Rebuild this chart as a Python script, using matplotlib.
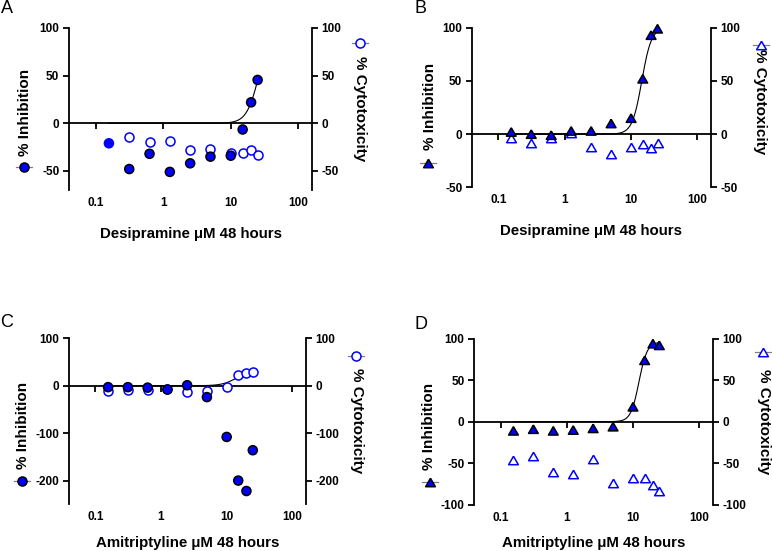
import numpy as np
import matplotlib
matplotlib.use('Agg')
import matplotlib.pyplot as plt
from matplotlib.lines import Line2D
from matplotlib.ticker import NullLocator, FixedLocator

plt.rcParams['font.family'] = ['Liberation Sans', 'DejaVu Sans']
plt.rcParams['font.weight'] = 'bold'
plt.rcParams['axes.unicode_minus'] = False

# ---------------- data ----------------
conc = [0.15625, 0.3125, 0.625, 1.25, 2.5, 5, 10, 15, 20, 25]

desi_a_inhib = [-21, -48, -32, -51, -42, -35, -34, -6.5, 22, 45.5]
desi_a_cyto = [np.nan, -14, -20, -18.5, -28, -26.5, -31.5, -31, -28, -33]

desi_b_inhib = [2, 0, -1, 3, 3, 10, 15, 52, 93, 99]
desi_b_cyto = [-4, -8, -3.5, 1, -12, -19, -12, -9, -13, -8]

ami_c_inhib = [-3, -3, -4, -8, 1, -24, -108, -200, -222, -136]
ami_c_cyto = [-11, -10, -10, -6, -14, -12, -2, 22, 27, 30]

ami_d_inhib = [-11, -9, -11, -10, -8, -6, 18, 74, 94, 92]
ami_d_cyto = [-46, -41, -61, -63, -45, -74, -68, -68, -76, -84]

# fitted sigmoid parameters (top, EC50, hill slope)
fit_a = (100, 26.1, 4.77)
fit_b = (100, 14.5, 6.0)
fit_c = (32, 14.0, 4.0)
fit_d = (96, 12.3, 7.0)

xticks = [0.1, 1, 10, 100]
xticklabels = ['0.1', '1', '10', '100']
yticks_a = [-50, 0, 50, 100]
yticks_b = [-50, 0, 50, 100]
yticks_c = [-200, -100, 0, 100]
yticks_d = [-100, -50, 0, 50, 100]

xlabel_desi = 'Desipramine \u03bcM 48 hours'
xlabel_ami = 'Amitriptyline \u03bcM 48 hours'
ylabel_left = '% Inhibition'
ylabel_right = '% Cytotoxicity'

# ---------------- style ----------------
W, H = 772, 551
BLUE = '#0000FF'
LW = 1.3
fig = plt.figure(figsize=(W / 100, H / 100), dpi=100)

TRI = [(0, 0.866), (-1, -0.866), (1, -0.866), (0, 0.866)]


def px_axes(l, r, t, b):
    return fig.add_axes([l / W, 1 - b / H, (r - l) / W, (b - t) / H])


def fig_pt(x, y):
    return x / W, 1 - y / H


def legend_mark(x, y, marker, face, edge, ms):
    fx, fy = fig_pt(x, y)
    fig.add_artist(Line2D([fx - 8 / W, fx + 8 / W], [fy, fy], transform=fig.transFigure,
                          color='#808080', lw=0.9))
    fig.add_artist(Line2D([fx], [fy], transform=fig.transFigure, marker=marker,
                          markerfacecolor=face, markeredgecolor=edge, markersize=ms,
                          markeredgewidth=1.1, linestyle='none'))


def panel(box, inhib, cyto, fit, ylim, yticks, marker, ms, xlabel,
          xlabel_y, letter, letter_xy, left_lab, left_mark, right_lab, right_mark,
          inhib_edges=None):
    ax = px_axes(*box)
    ax.set_xscale('log')
    ax.set_xlim(0.04, 160)
    ax.set_ylim(*ylim)
    ax.xaxis.set_major_locator(FixedLocator(xticks))
    ax.xaxis.set_minor_locator(NullLocator())
    ax.set_yticks(yticks)
    ax.set_yticklabels([str(v) for v in yticks])
    for s in ['left', 'right', 'bottom']:
        ax.spines[s].set_linewidth(LW)
        ax.spines[s].set_zorder(2)
    ax.spines['top'].set_visible(False)
    ax.spines['bottom'].set_position(('data', 0))
    ax.tick_params(axis='x', direction='out', length=4.5, width=LW, labelbottom=False)
    ax.tick_params(axis='y', direction='out', length=4.5, width=LW, left=True, right=True,
                   labelleft=True, labelright=True, labelsize=8.5, pad=2.5)
    sec = ax.secondary_xaxis(0.0)
    sec.set_xticks(xticks)
    sec.set_xticklabels(xticklabels)
    sec.xaxis.set_minor_locator(NullLocator())
    sec.tick_params(length=0, pad=5, labelsize=8.5)
    sec.spines['bottom'].set_visible(False)

    # fitted curve
    top, ec50, hill = fit
    xs = np.logspace(np.log10(min(conc)), np.log10(max(conc)), 300)
    ys = top / (1 + (ec50 / xs) ** hill)
    ax.plot(xs, ys, color='black', lw=0.8, zorder=3)

    mk = TRI if marker == 'tri' else 'o'
    ax.scatter(conc, cyto, marker=mk, s=ms ** 2, facecolors='white', edgecolors=BLUE,
               linewidths=1.1, zorder=4, clip_on=False)
    edges = inhib_edges if inhib_edges is not None else ['black'] * len(conc)
    ax.scatter(conc, inhib, marker=mk, s=ms ** 2, facecolors=BLUE, edgecolors=edges,
               linewidths=1.1, zorder=5, clip_on=False)

    cx = (box[0] + box[1]) / 2
    fig.text(*fig_pt(cx, xlabel_y), xlabel, ha='center', va='center', fontsize=10.8,
             fontweight='bold')
    fig.text(*fig_pt(*letter_xy), letter, ha='left', va='top', fontsize=13,
             fontweight='normal')
    fig.text(*fig_pt(*left_lab), ylabel_left, rotation=90, ha='center', va='center',
             fontsize=11, fontweight='bold')
    fig.text(*fig_pt(*right_lab), ylabel_right, rotation=-90, ha='center', va='center',
             fontsize=11, fontweight='bold')
    legend_mark(*left_mark, mk, BLUE, 'black', ms)
    legend_mark(*right_mark, mk, 'white', BLUE, ms)
    return ax


panel((69, 312, 28, 190), desi_a_inhib, desi_a_cyto, fit_a, (-70, 100), yticks_a,
      'o', 6.5, xlabel_desi, 234, 'A', (1, 0), (25, 112), (24, 167), (360, 109), (360, 43),
      inhib_edges=[BLUE] + ['black'] * 9)
panel((472, 711, 27.7, 187.3), desi_b_inhib, desi_b_cyto, fit_b, (-50, 100),
      yticks_b, 'tri', 7, xlabel_desi, 231, 'B', (414, 0), (429.5, 106.7), (428, 163.3),
      (760, 101.5), (761, 45))
panel((69.3, 305.7, 338.3, 504.3), ami_c_inhib, ami_c_cyto, fit_c, (-250, 100),
      yticks_c, 'o', 6.5, xlabel_ami, 542.6, 'C', (0, 314), (23.3, 425), (21.7, 481),
      (356.7, 421), (356, 356))
panel((474.3, 712.7, 338.7, 504.7), ami_d_inhib, ami_d_cyto, fit_d, (-100, 100),
      yticks_d, 'tri', 7, xlabel_ami, 543.5, 'D', (414, 316), (429.3, 426), (430.3, 481.7),
      (764, 421.5), (762.7, 352))

fig.savefig('out.png', dpi=100)
